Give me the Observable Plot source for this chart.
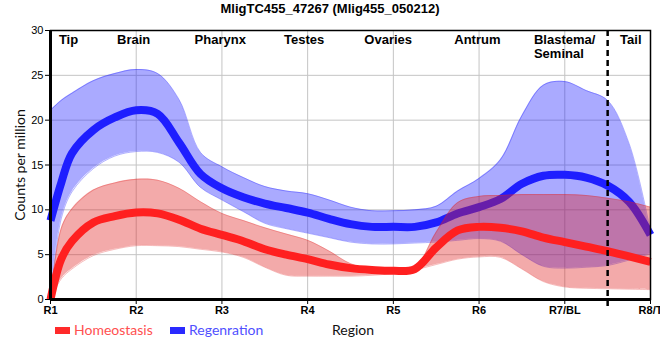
<!DOCTYPE html>
<html>
<head>
<meta charset="utf-8">
<script src="https://cdn.jsdelivr.net/npm/d3@7"></script>
<script src="https://cdn.jsdelivr.net/npm/@observablehq/plot@0.6"></script>
<style>
  html, body { margin: 0; padding: 0; background: #fff; }
  #wrap { position: relative; width: 660px; height: 360px; overflow: hidden; font-family: "Liberation Sans", Arial, sans-serif; }
  #title { position: absolute; left: 0; top: 1px; width: 660px; text-align: center; font-weight: bold; font-size: 13px; color: #000; }
  #ylab { position: absolute; left: 19px; top: 165px; transform: translate(-50%, -50%) rotate(-90deg); white-space: nowrap; font-family: Lato, "Open Sans", sans-serif; font-size: 14px; color: #111; }
  #xlab { position: absolute; left: 332px; top: 321px; font-family: Lato, "Open Sans", sans-serif; font-size: 14px; color: #111; }
  .leg { position: absolute; top: 321px; font-family: Lato, "Open Sans", sans-serif; font-size: 14px; white-space: nowrap; }
  .sw { position: absolute; width: 15px; height: 7px; top: 327px; }
</style>
</head>
<body>
<div id="wrap">
  <div id="chart"></div>
  <div id="title"></div>
  <div id="ylab"></div>
  <div id="xlab"></div>
</div>
<script>
// ---- data ----
const chartTitle = "MligTC455_47267 (Mlig455_050212)";
const yLabel = "Counts per million";
const xLabel = "Region";
const tickLabels = ["R1", "R2", "R3", "R4", "R5", "R6", "R7/BL", "R8/T"];
const regionNames = ["Tip", "Brain", "Pharynx", "Testes", "Ovaries", "Antrum", "Blastema/\nSeminal", "Tail"];
const regionPos = [1.21, 1.97, 2.98, 3.96, 4.94, 5.98, 6.64, 7.77];
const regionBoundary = [7.5];
const seriesNames = ["Homeostasis", "Regenration"];

const xPos = [1, 1.125, 1.25, 1.5, 1.75, 2, 2.25, 2.5, 2.75, 3, 3.25, 3.5, 3.75, 4, 4.25, 4.5, 4.75, 5, 5.25, 5.5, 5.75, 6, 6.25, 6.5, 6.75, 7, 7.25, 7.5, 7.75, 8];

const regenMean = [8.8, 13.0, 16.3, 18.9, 20.3, 21.1, 20.7, 17.5, 14.0, 12.4, 11.4, 10.7, 10.2, 9.7, 9.0, 8.4, 8.1, 8.1, 8.1, 8.6, 9.6, 10.3, 11.2, 12.9, 13.8, 13.9, 13.6, 12.7, 10.9, 7.2];
const regenHigh = [21.1, 22.2, 23.0, 24.4, 25.2, 25.65, 25.2, 22.3, 16.4, 14.8, 13.6, 12.6, 12.1, 11.8, 11.1, 10.3, 9.9, 9.9, 10.0, 10.4, 12.1, 13.5, 15.6, 20.5, 23.9, 24.3, 23.3, 22.2, 17.4, 7.6];
const regenLow  = [0.2, 9.0, 12.0, 14.6, 16.0, 16.5, 16.4, 15.3, 12.5, 11.1, 9.8, 8.5, 7.9, 7.4, 6.9, 6.4, 6.2, 6.2, 6.3, 6.4, 6.6, 6.8, 6.5, 5.0, 3.7, 3.5, 3.6, 3.8, 4.4, 5.1];

const homeoMean = [0, 4.5, 6.5, 8.6, 9.3, 9.7, 9.6, 8.9, 7.9, 7.2, 6.5, 5.6, 5.0, 4.5, 3.9, 3.5, 3.3, 3.2, 3.4, 5.8, 7.7, 8.1, 8.0, 7.6, 6.9, 6.4, 5.9, 5.4, 4.8, 4.2];
const homeoHigh = [0, 7.9, 10.1, 12.2, 13.0, 13.4, 13.3, 12.4, 10.9, 9.6, 8.8, 8.0, 7.3, 6.6, 5.4, 4.0, 3.4, 3.3, 3.5, 7.5, 10.8, 11.5, 11.6, 11.7, 11.7, 11.7, 11.6, 11.3, 10.9, 10.3];
const homeoLow  = [0, 2.3, 3.4, 4.9, 5.6, 6.0, 6.0, 5.9, 5.6, 5.3, 4.7, 3.6, 2.7, 2.6, 2.6, 2.6, 2.7, 2.9, 3.3, 3.9, 4.5, 4.75, 4.7, 3.4, 2.0, 1.4, 1.25, 1.2, 1.15, 1.1];

const yTicks = [0, 5, 10, 15, 20, 25, 30];

// ---- build tables ----
const regen = xPos.map((x, i) => ({x, mean: regenMean[i], lo: regenLow[i], hi: regenHigh[i]}));
const homeo = xPos.map((x, i) => ({x, mean: homeoMean[i], lo: homeoLow[i], hi: homeoHigh[i]}));
const regions = regionNames.map((name, i) => ({name, x: regionPos[i]}));
const xTicks = tickLabels.map((d, i) => i + 1);

const blue = "#1e1eff", red = "#ff2020";
const curve = "catmull-rom";

const chart = Plot.plot({
  width: 660,
  height: 360,
  marginLeft: 50,
  marginRight: 10,
  marginTop: 30,
  marginBottom: 61,
  style: {fontFamily: "'Liberation Sans', Arial, sans-serif", background: "white"},
  x: {domain: [1, 8]},
  y: {domain: [0, 30]},
  marks: [
    Plot.gridX(xTicks, {stroke: "#c4c4c4", strokeOpacity: 1, strokeWidth: 1}),
    Plot.gridY(yTicks, {stroke: "#c4c4c4", strokeOpacity: 1, strokeWidth: 1}),
    // Regeneration
    Plot.areaY(regen, {x: "x", y1: "lo", y2: "hi", fill: "#2020ff", fillOpacity: 0.38, curve}),
    Plot.lineY(regen, {x: "x", y: "hi", stroke: "#2020ff", strokeOpacity: 0.35, strokeWidth: 1, curve}),
    Plot.lineY(regen, {x: "x", y: "lo", stroke: "#2020ff", strokeOpacity: 0.35, strokeWidth: 1, curve}),
    Plot.lineY(regen, {x: "x", y: "mean", stroke: blue, strokeWidth: 8, strokeLinecap: "butt", curve}),
    // Homeostasis
    Plot.areaY(homeo, {x: "x", y1: "lo", y2: "hi", fill: "#e02020", fillOpacity: 0.38, curve}),
    Plot.lineY(homeo, {x: "x", y: "hi", stroke: "#e02020", strokeOpacity: 0.3, strokeWidth: 1, curve}),
    Plot.lineY(homeo, {x: "x", y: "lo", stroke: "#e02020", strokeOpacity: 0.3, strokeWidth: 1, curve}),
    Plot.lineY(homeo, {x: "x", y: "mean", stroke: red, strokeWidth: 8, strokeLinecap: "butt", curve}),
    // frame and axes
    Plot.frame({stroke: "black", strokeWidth: 1.5}),
    Plot.ruleX([1], {stroke: "black", strokeWidth: 3}),
    Plot.ruleY([0], {stroke: "black", strokeWidth: 3}),
    Plot.ruleX(regionBoundary, {stroke: "black", strokeWidth: 2.5, strokeDasharray: "6,4", insetBottom: -7}),
    Plot.text(regions, {x: "x", text: "name", frameAnchor: "top", dy: 3, lineAnchor: "top",
      fontWeight: "bold", fontSize: 13, fill: "black", lineHeight: 1.1}),
    Plot.axisX({ticks: xTicks, tickFormat: d => tickLabels[d - 1], tickSize: 5, tickPadding: 2,
      fontWeight: "bold", fontSize: 11, label: null, stroke: "black"}),
    Plot.axisY({ticks: yTicks, tickSize: 5, tickPadding: 2, fontSize: 11, label: null})
  ]
});
document.getElementById("chart").appendChild(chart);

// left-align the two-line region label
d3.select(chart).selectAll("text").filter(function() { return this.textContent.startsWith("Blastema"); })
  .attr("text-anchor", "start");

document.getElementById("title").textContent = chartTitle;
document.getElementById("ylab").textContent = yLabel;
document.getElementById("xlab").textContent = xLabel;

// legend
const wrap = document.getElementById("wrap");
const legendColors = [["#ff2a2a", "#ff5050"], ["#2a2aff", "#5050ff"]];
const legendX = [55, 170];
seriesNames.forEach((name, i) => {
  const sw = document.createElement("div");
  sw.className = "sw";
  sw.style.left = legendX[i] + "px";
  sw.style.background = legendColors[i][0];
  wrap.appendChild(sw);
  const t = document.createElement("div");
  t.className = "leg";
  t.style.left = (legendX[i] + 19) + "px";
  t.style.color = legendColors[i][1];
  t.textContent = name;
  wrap.appendChild(t);
});
</script>
</body>
</html>
